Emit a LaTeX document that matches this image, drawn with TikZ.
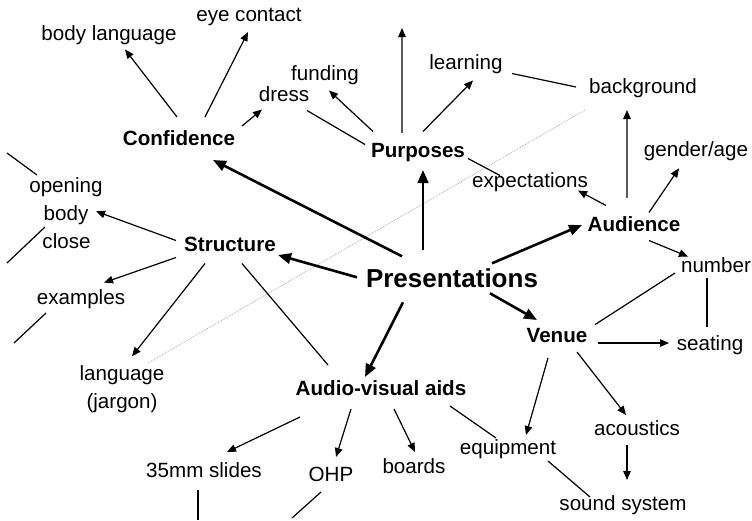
\documentclass[tikz,border=0pt]{standalone}
\usepackage{fontspec}
\setmainfont{Liberation Sans}
\usetikzlibrary{arrows.meta}
\begin{document}
\begin{tikzpicture}[x=1pt,y=-1pt,
  txt/.style={inner sep=0pt, font=\fontsize{20.6}{24}\selectfont},
  lbl/.style={txt, text height=15pt, text depth=4.3pt},
  bold/.style={lbl, font=\fontsize{20.6}{24}\selectfont\bfseries},
  big/.style={inner sep=0pt, font=\fontsize{26}{30}\selectfont\bfseries, text height=19pt, text depth=5.5pt},
  plain/.style={line width=1.2pt},
  arr/.style={plain, -{Triangle[length=9pt,width=7.5pt]}},
  grayarr/.style={plain, draw=black!65, -{Triangle[length=9pt,width=7.5pt,black]}},
  major/.style={line width=2.6pt, -{Triangle[length=13pt,width=10.5pt]}},
  faint/.style={draw=gray!65, line width=0.8pt, densely dotted}
]
\useasboundingbox (0,0) rectangle (752,520);

% nodes
\node[lbl]  (eye)      at (249,16)    {eye contact};
\node[lbl]  (bodylang) at (109,35.5)  {body language};
\node[lbl]  (funding)  at (325,75.5)  {funding};
\node[lbl]  (dress)    at (284,96.5)  {dress};
\node[bold] (conf)     at (179,140)   {Confidence};
\node[lbl]  (opening)  at (66,187.5)  {opening};
\node[lbl]  (body)     at (66,215.3)  {body};
\node[lbl]  (close)    at (66.5,243)  {close};
\node[bold] (struct)   at (230,246.5) {Structure};
\node[bold] (purp)     at (418,152.5) {Purposes};
\node[lbl]  (learning) at (466,64.5)  {learning};
\node[lbl]  (backg)    at (643,88)    {background};
\node[lbl]  (gender)   at (696,151.3) {gender/age};
\node[lbl]  (expect)   at (530,182.5) {expectations};
\node[bold] (aud)      at (634,226.5) {Audience};
\node[big]  (pres)     at (452,280.3) {Presentations};
\node[lbl]  (number)   at (716,267.6) {number};
\node[bold] (venue)    at (557,337.6) {Venue};
\node[lbl]  (seating)  at (710,345)   {seating};
\node[lbl]  (examples) at (81,299.6)  {examples};
\node[txt, align=center, font=\fontsize{20.6}{28.5}\selectfont, anchor=north]
            (lang)     at (122,365.3) {language\\(jargon)};
\node[bold] (av)       at (381,390.5) {Audio-visual aids};
\node[lbl]  (slides)   at (204,472.6) {35mm slides};
\node[lbl]  (ohp)      at (331,476.4) {OHP};
\node[lbl]  (boards)   at (414,468.6) {boards};
\node[lbl]  (equip)    at (508,449.6) {equipment};
\node[lbl]  (acoust)   at (637,430.6) {acoustics};
\node[lbl]  (sound)    at (623,505.3) {sound system};

% free ends
\coordinate (topend) at (402,28);
\coordinate (s1) at (7,153);
\coordinate (s2) at (7,263);
\coordinate (s3) at (14,343);
\coordinate (s4) at (198,520);
\coordinate (s5) at (292,518);
\coordinate (d1) at (148,363);
\coordinate (d2) at (585,110);

% faint diagonal
\draw[faint] (d1) -- (d2);

% Confidence
\draw[arr] ([shift={(-2,-23)}]conf.center) -- ([shift={(16,14)}]bodylang.center);
\draw[arr] ([shift={(26,-23)}]conf.center) -- ([shift={(-1,16)}]eye.center);
\draw[arr] ([shift={(63,-14)}]conf.center) -- ([shift={(-22,13)}]dress.center);

% Purposes
\draw[plain] ([shift={(-53,-8)}]purp.center) -- ([shift={(23,14)}]dress.center);
\draw[arr] ([shift={(-45,-21)}]purp.center) -- ([shift={(4,15)}]funding.center);
\draw[grayarr] ([shift={(-16,-20)}]purp.center) -- (topend);
\draw[arr] ([shift={(5,-21)}]purp.center) -- ([shift={(7,16)}]learning.center);
\draw[plain] ([shift={(50,6)}]purp.center) -- ([shift={(-30,-7)}]expect.center);
\draw[plain] ([shift={(46,9)}]learning.center) -- ([shift={(-67,-1)}]backg.center);

% Audience
\draw[grayarr] ([shift={(-7,-29)}]aud.center) -- ([shift={(-16,22)}]backg.center);
\draw[arr] ([shift={(15,-14)}]aud.center) -- ([shift={(-17,17)}]gender.center);
\draw[arr] ([shift={(-28,-21)}]aud.center) -- ([shift={(48,8)}]expect.center);
\draw[arr] ([shift={(15,14)}]aud.center) -- ([shift={(-28,-11)}]number.center);

% Structure
\draw[arr] ([shift={(-54,-6)}]struct.center) -- ([shift={(30,-4)}]body.center);
\draw[arr] ([shift={(-54,11)}]struct.center) -- ([shift={(23,-17)}]examples.center);
\draw[arr] ([shift={(-25,17)}]struct.center) -- ([shift={(10,-9)}]lang.north);
\draw[plain] ([shift={(12,17)}]struct.center) -- ([shift={(-53,-25.5)}]av.center);

% Presentations
\draw[major] ([shift={(-50,-24)}]pres.center) -- ([shift={(34,20)}]conf.center);
\draw[major] ([shift={(-29,-30)}]pres.center) -- ([shift={(5,17.5)}]purp.center);
\draw[major] ([shift={(40,-17)}]pres.center) -- ([shift={(-52,-1.5)}]aud.center);
\draw[major] ([shift={(-95,-3)}]pres.center) -- ([shift={(48,8.5)}]struct.center);
\draw[major] ([shift={(-49,22)}]pres.center) -- ([shift={(-16,-13.5)}]av.center);
\draw[major] ([shift={(38,13)}]pres.center) -- ([shift={(-20,-17.6)}]venue.center);

% Venue
\draw[plain] ([shift={(38,-13)}]venue.center) -- ([shift={(-41,5.4)}]number.center);
\draw[arr] ([shift={(41,5.4)}]venue.center) -- ([shift={(-41,-2)}]seating.center);
\draw[arr] ([shift={(-9,20.4)}]venue.center) -- ([shift={(18,-14.6)}]equip.center);
\draw[arr] ([shift={(20,14.4)}]venue.center) -- ([shift={(-11,-15.6)}]acoust.center);
\draw[plain] ([shift={(-9,10.4)}]number.center) -- ([shift={(-3,-18)}]seating.center);
\draw[arr] ([shift={(-10,14.4)}]acoust.center) -- ([shift={(4,-25.3)}]sound.center);
\draw[plain] ([shift={(40,11.4)}]equip.center) -- ([shift={(-33,-8.3)}]sound.center);

% Audio-visual aids
\draw[plain] ([shift={(69,15.5)}]av.center) -- ([shift={(-12,-11.6)}]equip.center);
\draw[arr] ([shift={(13,18.5)}]av.center) -- ([shift={(1,-16.6)}]boards.center);
\draw[arr] ([shift={(-81,26.5)}]av.center) -- ([shift={(23,-20.6)}]slides.center);
\draw[arr] ([shift={(-30,18.5)}]av.center) -- ([shift={(5,-19.4)}]ohp.center);

% stray lines leaving the picture
\draw[plain] (s1) -- ([shift={(-29,-12.5)}]opening.center);
\draw[plain] ([shift={(-21.5,-16)}]close.center) -- (s2);
\draw[plain] ([shift={(-35,13.4)}]examples.center) -- (s3);
\draw[plain] ([shift={(-6,17.4)}]slides.center) -- (s4);
\draw[plain] ([shift={(-10,15.6)}]ohp.center) -- (s5);
\end{tikzpicture}
\end{document}
